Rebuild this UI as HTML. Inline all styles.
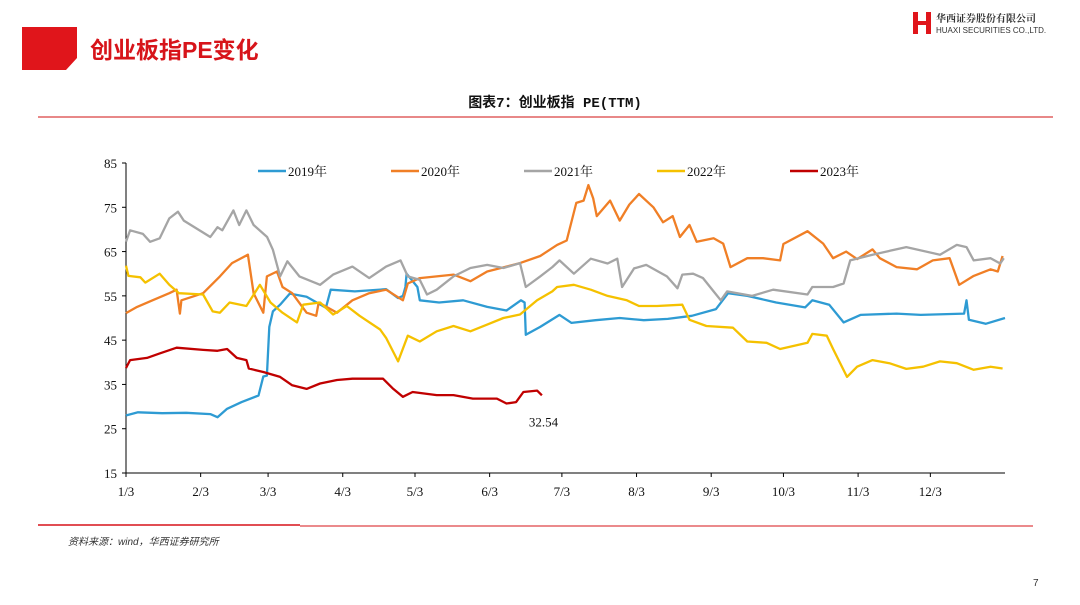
<!DOCTYPE html>
<html><head><meta charset="utf-8"><style>
body{margin:0;width:1080px;height:605px;background:#fff;position:relative;overflow:hidden;font-family:"Liberation Sans","Noto Sans CJK SC",sans-serif}
.abs{position:absolute}
</style></head><body>
<svg class="abs" style="left:0;top:0" width="1080" height="605">
<polygon points="22,27 77,27 77,58 66,70 22,70" fill="#e0151b"/>
<text x="90" y="58" font-size="23" font-weight="bold" fill="#d7141a" font-family="Liberation Sans,Noto Sans CJK SC,sans-serif">创业板指PE变化</text>
<g>
<rect x="913" y="12" width="5" height="22" fill="#e0151b"/><rect x="926" y="12" width="5" height="22" fill="#e0151b"/><rect x="916" y="21" width="12" height="4" fill="#e0151b"/>
<text x="936" y="22" font-size="10" font-weight="bold" fill="#333" font-family="Noto Serif CJK SC,serif">华西证券股份有限公司</text>
<text x="936" y="33" font-size="8" fill="#333" font-family="Liberation Sans,sans-serif">HUAXI SECURITIES CO.,LTD.</text>
</g>
<text x="555" y="107" text-anchor="middle" font-size="14" font-weight="bold" fill="#111" font-family="Liberation Mono,Noto Sans CJK SC,monospace">图表7：创业板指 PE(TTM)</text>
<line x1="38" y1="117" x2="1053" y2="117" stroke="#e06060" stroke-width="1.5"/>
<line x1="38" y1="525" x2="300" y2="525" stroke="#d7141a" stroke-width="1.5"/>
<line x1="300" y1="526" x2="1033" y2="526" stroke="#d7141a" stroke-width="1"/>
<text x="68" y="545" font-size="10" font-style="italic" fill="#333" font-family="Liberation Sans,Noto Sans CJK SC,sans-serif">资料来源：wind，华西证券研究所</text>
<text x="1033" y="586" font-size="10" fill="#333">7</text>
<g id="chart"></g>
</svg>
<script>
const yTicks=[15,25,35,45,55,65,75,85];
const xTickLabels=["1/3","2/3","3/3","4/3","5/3","6/3","7/3","8/3","9/3","10/3","11/3","12/3"];
const xTickDays=[0,31,59,90,120,151,181,212,243,273,304,334];
const seriesNames=["2019年","2020年","2021年","2022年","2023年"];
const seriesColors=["#2e9bd3","#f07f26","#a5a5a5","#f5c100","#c00000"];
const days2019=[0,5,15,25,35,38,42,48,55,57,58.5,59.5,61,64,68,75,83,85,95,108,113,115,116,116.5,121,122,130,140,150,158,164,165.5,166,172,180,185,195,205,215,225,235,245,250,258,270,282,285,292,298,305,320,330,348,349,350,357,365];
const pe2019=[28,28.7,28.5,28.6,28.3,27.6,29.5,31,32.5,36.8,37,48,51.5,53,55.5,54.8,52.3,56.4,56,56.5,54.5,55,57,60,57,54,53.5,54,52.5,51.7,54,53.5,46.2,48,50.7,48.9,49.5,50,49.5,49.8,50.5,52,55.6,55,53.5,52.4,54,53,49,50.7,51,50.7,51,54,49.6,48.7,50];
const days2020=[0,4.6,11,18,21,22.4,23,32,39,44,50.6,53,57,58.5,62.7,65,69,75,79,80,87.6,94,101,108,115,117,122,136,143,150,163.6,172,179,183,187,190,192,194,195.5,201,205,209,213,219,223,227,230,234,237,244,248,251,258,264.5,271.6,273,283,289.5,293.6,299,303.6,310,313,320,328.5,335,342,346,352,359,362,364];
const pe2020=[51.1,52.5,54,55.6,56.4,51,54,55.6,59.4,62.4,64.3,55.6,51.2,59.4,60.5,57,55.6,51.2,50.5,53.5,51.2,54,55.6,56.4,54,57.8,59,59.8,58.3,60.5,62.4,64,66.5,67.5,76,76.5,80,77,73,76.5,72,75.6,78,75,71.6,73,68.3,71,67.2,68,66.8,61.5,63.5,63.5,63,66.7,69.6,66.8,63.5,65,63.3,65.5,63.5,61.5,61,63,63.5,57.5,59.5,61,60.5,64];
const days2021=[0,1.7,7,10,14,18,21.6,24,35,38,40,44.6,47,50,53,58.6,61,64,67,72,80.6,86,94,101,108,114,117,122,125,129,136,143,150,156.7,163.6,166,172,177,180,186,193,200,204,206,211,216,224.6,229,231,235.5,239.6,244,247,249.6,260,268.7,283,285,293.6,298,300.7,310,324,338,345,349,352,359,363,364.5];
const pe2021=[67.2,69.8,69,67.2,68,72.5,74,72,68.3,70.5,69.8,74.3,71,74.3,71,68.3,65.4,59.4,62.8,59.4,57.5,59.8,61.6,59,61.6,63,59.4,58.6,55.3,56.4,59.4,61.3,62,61.3,62.4,57,59.4,61.5,63,60,63.4,62.3,63.4,57,61.2,62,59.4,56.7,59.8,60,59,56,54,56,55,56.4,55.3,57,57,57.8,63,64.3,66,64.3,66.5,66,63,63.5,62.3,63.5];
const days2022=[0,1,6,8,14,18,22,32,36,39,43,50,55.6,60,65,71,73.6,80.6,86,91.7,97,105.5,108,113,117,122,129,136,143,150,156.7,163.6,170.7,177,179,186,193,200,208,213,220.5,231,234,241,252,258,266,271.6,283,285,291,293.6,299.4,303.6,310,317,324,331,338,345,352,359,364];
const pe2022=[61.8,59.5,59.2,58,60,57.5,55.6,55.3,51.5,51.2,53.5,52.7,57.5,53.5,51.2,49,53,53.5,50.8,52.7,50.5,47.4,45.5,40.2,46,44.7,47,48.2,47,48.5,50,50.8,54,56,57,57.5,56.4,55,54,52.7,52.7,53,49.6,48.2,47.8,44.7,44.4,43,44.4,46.4,46,43,36.7,39,40.5,39.8,38.5,39,40.2,39.8,38.3,39,38.6];
const days2023=[0,1.7,8.7,14,21,32,38,42,46,50,51,57,64,69,75,80.6,87.6,94,106.7,111,115,119,129,136,144,154,158,162,165,170.7,172.7];
const pe2023=[38.7,40.5,41,42,43.3,42.8,42.6,43,41,40.5,38.6,37.8,36.7,34.8,34,35.2,36,36.3,36.3,34,32.2,33.3,32.6,32.6,31.8,31.8,30.7,31,33.3,33.6,32.54];
const allDays=[days2019,days2020,days2021,days2022,days2023];
const allPe=[pe2019,pe2020,pe2021,pe2022,pe2023];
const lastLabel="32.54";

const X0=126,X1=1005,Y0=473,Y1=163;
function xs(d){return X0+d*(X1-X0)/365;}
function ys(v){return Y0-(v-15)*(Y0-Y1)/70;}
const NS="http://www.w3.org/2000/svg";
const g=document.getElementById('chart');
function mk(t,a,txt){const e=document.createElementNS(NS,t);for(const k in a)e.setAttribute(k,a[k]);if(txt!==undefined)e.textContent=txt;g.appendChild(e);return e;}
let e;
e=mk('line',{x1:X0,y1:Y1,x2:X0,y2:Y0,stroke:'#000','stroke-width':1});


e=mk('line',{x1:X0,y1:Y0,x2:X1,y2:Y0,stroke:'#000','stroke-width':1});


yTicks.forEach(v=>{
 e=mk('line',{x1:X0-4,y1:ys(v),x2:X0,y2:ys(v),stroke:'#000'});
 
 
 e=mk('text',{x:X0-9,y:ys(v)+5,'text-anchor':'end','font-size':13,'font-family':'Liberation Serif,serif',fill:'#111'},String(v));
 
 
});
xTickDays.forEach((d,i)=>{
 e=mk('line',{x1:xs(d),y1:Y0,x2:xs(d),y2:Y0+4,stroke:'#000'});
 
 
 e=mk('text',{x:xs(d),y:Y0+23,'text-anchor':'middle','font-size':13,'font-family':'Liberation Serif,serif',fill:'#111'},xTickLabels[i]);
 
 
});
allDays.forEach((ds,i)=>{
 const pts=ds.map((d,j)=>xs(d).toFixed(1)+','+ys(allPe[i][j]).toFixed(1)).join(' ');
 e=mk('polyline',{points:pts,fill:'none',stroke:seriesColors[i],'stroke-width':2.3,'stroke-linejoin':'round'});
 
 
});
const ld=days2023[days2023.length-1],lv=pe2023[pe2023.length-1];
e=mk('text',{x:xs(ld)-13,y:ys(lv)+31,'font-size':13,'font-family':'Liberation Serif,serif',fill:'#111'},lastLabel);


seriesNames.forEach((n,i)=>{
 const lx=258+i*133;
 e=mk('line',{x1:lx,y1:171,x2:lx+28,y2:171,stroke:seriesColors[i],'stroke-width':2.6});
 
 
 e=mk('text',{x:lx+30,y:176,'font-size':13,'font-family':'Liberation Serif,Noto Serif CJK SC,serif',fill:'#111'},n);
 
 
});
</script>
</body></html>
